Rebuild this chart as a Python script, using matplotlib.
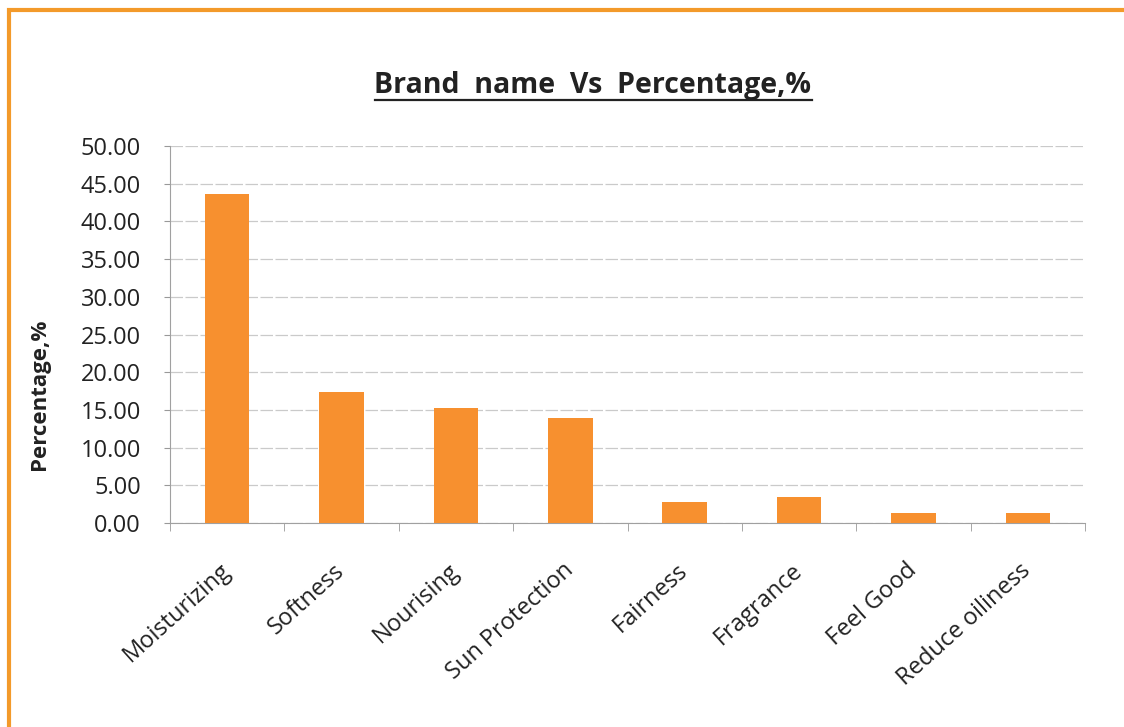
import matplotlib
matplotlib.use("Agg")
import matplotlib.pyplot as plt
from matplotlib.patches import Rectangle
from matplotlib.lines import Line2D
import numpy as np

plt.rcParams['font.family'] = ['Open Sans', 'DejaVu Sans']

categories = ["Moisturizing", "Softness", "Nourising", "Sun Protection",
              "Fairness", "Fragrance", "Feel Good", "Reduce oiliness"]
percentages = [43.6, 17.4, 15.25, 13.9, 2.8, 3.45, 1.3, 1.35]
y_ticks = [0, 5, 10, 15, 20, 25, 30, 35, 40, 45, 50]

bar_color = "#F7902F"
frame_color = "#F39A2A"
text_color = "#222222"

W, H = 1124, 727
fig = plt.figure(figsize=(W / 100, H / 100), dpi=100)
fig.patch.set_facecolor("white")

# orange chart frame
fig.patches.append(Rectangle((9 / W, -0.05), 1.2, 1 - 10 / H + 0.05,
                             transform=fig.transFigure, fill=False,
                             edgecolor=frame_color, linewidth=3))

ax = fig.add_axes([170 / W, 1 - 523 / H, (1085 - 170) / W, (523 - 146) / H])
x = np.arange(len(categories))
ax.bar(x, percentages, width=0.39, color=bar_color, zorder=3)

ax.set_xlim(-0.5, len(categories) - 0.5)
ax.set_ylim(0, 50)
ax.set_yticks(y_ticks)
ax.set_yticklabels([f"{v:.2f}" for v in y_ticks], fontsize=17, color=text_color)
ax.yaxis.grid(True, color="#cacaca", linewidth=0.9, linestyle=(0, (10, 2)))
ax.set_axisbelow(True)

ax.set_xticks(x)
ax.set_xticklabels(categories, rotation=42, ha="right", va="center",
                   rotation_mode="anchor", fontsize=17, color=text_color)
ax.set_xticks(np.arange(len(categories) + 1) - 0.5, minor=True)
ax.tick_params(axis="x", which="major", length=0, pad=32)
ax.tick_params(axis="x", which="minor", length=6, color="#999999", direction="out")
ax.tick_params(axis="y", length=4, color="#999999", pad=17)

for side in ("top", "right"):
    ax.spines[side].set_visible(False)
ax.spines["left"].set_color("#a0a0a0")
ax.spines["bottom"].set_color("#a0a0a0")

fig.text(40 / W, 1 - 394 / H, "Percentage,%", rotation=90, ha="center",
         va="center", fontsize=16, fontweight="bold", color=text_color)

title = fig.text(593 / W, 1 - 86 / H, "Brand  name  Vs  Percentage,%",
                 ha="center", va="center", fontsize=20.5, fontweight="bold",
                 color=text_color)

# underline the title
fig.canvas.draw()
bb = title.get_window_extent(renderer=fig.canvas.get_renderer())
uy = (bb.y0 + 1) / H
fig.add_artist(Line2D([bb.x0 / W, bb.x1 / W], [uy, uy], transform=fig.transFigure,
                      color=text_color, linewidth=1.6))

fig.savefig("out.png", dpi=100, facecolor="white")
